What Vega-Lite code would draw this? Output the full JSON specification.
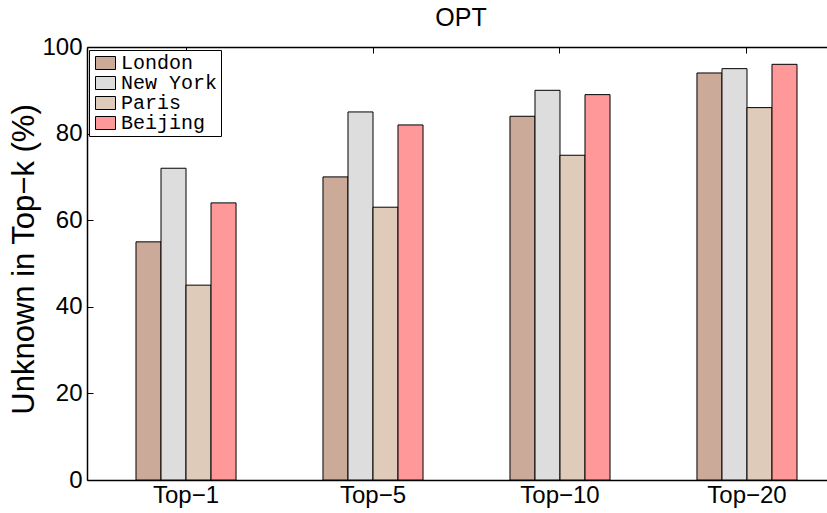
{
  "$schema": "https://vega.github.io/schema/vega-lite/v6.json",
  "width": 740,
  "height": 433,
  "autosize": {"type": "none"},
  "padding": {"left": 87, "top": 47, "right": 0, "bottom": 33},
  "background": "white",
  "title": {
    "text": "OPT",
    "font": "Liberation Sans",
    "fontSize": 25,
    "fontWeight": "normal",
    "color": "black",
    "dx": 4,
    "offset": 4
  },
  "config": {
    "view": {"stroke": null},
    "axis": {
      "labelFont": "Liberation Sans",
      "titleFont": "Liberation Sans",
      "labelColor": "black",
      "titleColor": "black",
      "domainColor": "black",
      "tickColor": "black",
      "grid": false
    }
  },
  "data": {
    "values": [
      {"k": "Top−1", "city": "London", "pct": 55},
      {"k": "Top−1", "city": "New York", "pct": 72},
      {"k": "Top−1", "city": "Paris", "pct": 45},
      {"k": "Top−1", "city": "Beijing", "pct": 64},
      {"k": "Top−5", "city": "London", "pct": 70},
      {"k": "Top−5", "city": "New York", "pct": 85},
      {"k": "Top−5", "city": "Paris", "pct": 63},
      {"k": "Top−5", "city": "Beijing", "pct": 82},
      {"k": "Top−10", "city": "London", "pct": 84},
      {"k": "Top−10", "city": "New York", "pct": 90},
      {"k": "Top−10", "city": "Paris", "pct": 75},
      {"k": "Top−10", "city": "Beijing", "pct": 89},
      {"k": "Top−20", "city": "London", "pct": 94},
      {"k": "Top−20", "city": "New York", "pct": 95},
      {"k": "Top−20", "city": "Paris", "pct": 86},
      {"k": "Top−20", "city": "Beijing", "pct": 96}
    ]
  },
  "resolve": {"axis": {"x": "independent"}},
  "layer": [
    {
      "mark": {"type": "bar", "stroke": "black", "strokeWidth": 1},
      "encoding": {
        "x": {
          "field": "k",
          "type": "nominal",
          "sort": ["Top−1", "Top−5", "Top−10", "Top−20"],
          "scale": {"range": [0, 759], "paddingInner": 0.465, "paddingOuter": 0.262},
          "axis": {
            "title": null,
            "orient": "bottom",
            "labelAngle": 0,
            "labelFontSize": 24,
            "tickSize": -6,
            "labelPadding": 9,
            "domainWidth": 1.5
          }
        },
        "xOffset": {
          "field": "city",
          "sort": ["London", "New York", "Paris", "Beijing"],
          "scale": {"paddingInner": 0, "paddingOuter": 0}
        },
        "y": {
          "field": "pct",
          "type": "quantitative",
          "scale": {"domain": [0, 100], "nice": false},
          "axis": {
            "title": "Unknown in Top−k (%)",
            "titleFontSize": 31,
            "titleFontWeight": "normal",
            "titleAngle": 270,
            "titleAlign": "center",
            "titleBaseline": "alphabetic",
            "titleX": -54,
            "titleY": 212,
            "labelFontSize": 24,
            "values": [0, 20, 40, 60, 80, 100],
            "tickSize": -6,
            "labelPadding": 11,
            "domainWidth": 1.5
          }
        },
        "color": {
          "field": "city",
          "type": "nominal",
          "sort": ["London", "New York", "Paris", "Beijing"],
          "scale": {
            "domain": ["London", "New York", "Paris", "Beijing"],
            "range": ["#CBAA9A", "#DDDDDD", "#DECBBA", "#FF9999"]
          },
          "legend": {
            "title": null,
            "orient": "none",
            "legendX": 2,
            "legendY": 3,
            "padding": 3,
            "strokeColor": "black",
            "fillColor": "white",
            "symbolType": "M-1,-1H2.077V1H-1Z",
            "symbolSize": 169,
            "symbolStrokeColor": "black",
            "symbolStrokeWidth": 1,
            "symbolOpacity": 1,
            "labelFont": "Liberation Mono",
            "labelFontSize": 17,
            "labelColor": "black",
            "labelOffset": 9,
            "rowPadding": -4,
            "labelLimit": 300,
            "encoding": {
              "labels": {"fontSize": {"value": 20}}
            }
          }
        }
      }
    },
    {
      "mark": {"type": "point", "opacity": 0},
      "encoding": {
        "x": {
          "field": "k",
          "type": "nominal",
          "sort": ["Top−1", "Top−5", "Top−10", "Top−20"],
          "axis": {
            "title": null,
            "orient": "top",
            "labels": false,
            "tickSize": -6,
            "domainWidth": 1.5
          }
        },
        "y": {"datum": 100}
      }
    }
  ]
}
